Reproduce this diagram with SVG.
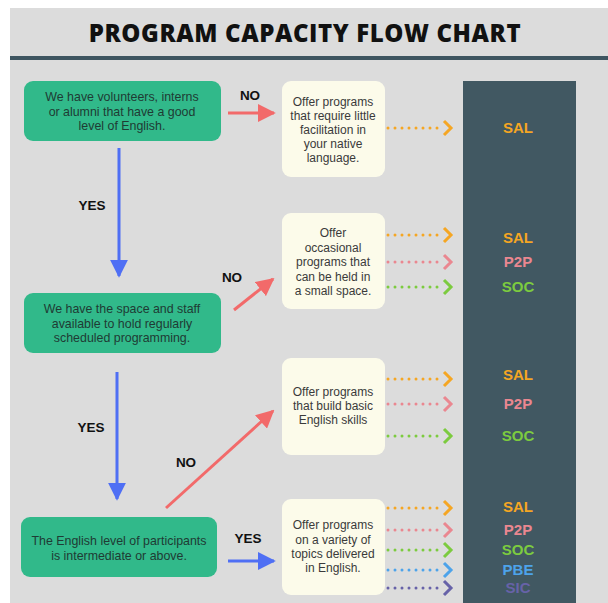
<svg xmlns="http://www.w3.org/2000/svg" width="608" height="603" viewBox="0 0 608 603">
<defs>
<style>
.dec{fill:#31b98a}
.dt{font-family:"Liberation Sans",Arial,sans-serif;font-size:12.4px;fill:#1f3b34;text-anchor:middle}
.out{fill:#fcfbea}
.ot{font-family:"Liberation Sans",Arial,sans-serif;font-size:12px;fill:#3a3a3a;text-anchor:middle}
.lbl{font-family:"Liberation Sans",Arial,sans-serif;font-weight:bold;font-size:13.5px;fill:#111;text-anchor:middle}
.code{font-family:"Liberation Sans",Arial,sans-serif;font-weight:bold;font-size:15px;text-anchor:middle}
.dots{fill:none;stroke-width:3;stroke-linecap:round;stroke-dasharray:0 7}
.chev{fill:none;stroke-width:3;stroke-linejoin:miter;stroke-linecap:butt}
.blue{stroke:#4f6ff4;stroke-width:3;fill:none}
.red{stroke:#f26a6a;stroke-width:3;fill:none}
</style>
<marker id="ab" viewBox="0 0 10 10" refX="9" refY="5" markerWidth="6" markerHeight="6" markerUnits="strokeWidth" orient="auto"><path d="M0,0 L10,5 L0,10 z" fill="#4f6ff4"/></marker>
<marker id="ar" viewBox="0 0 10 10" refX="9" refY="5" markerWidth="6" markerHeight="6" markerUnits="strokeWidth" orient="auto"><path d="M0,0 L10,5 L0,10 z" fill="#f26a6a"/></marker>
</defs>
<rect x="0" y="0" width="608" height="603" fill="#ffffff"/>
<rect x="10" y="8" width="598" height="595" fill="#dcdcdc"/>
<text x="305" y="42" font-family="'Open Sans','Liberation Sans',sans-serif" font-weight="800" font-size="24" letter-spacing="0.6" fill="#111" text-anchor="middle">PROGRAM CAPACITY FLOW CHART</text>
<rect x="10" y="56" width="598" height="4" fill="#3e5560"/>
<rect id="column" x="463" y="81" width="113" height="522" fill="#415862"/>

<g id="d1"><rect class="dec" x="24" y="81" width="197" height="60" rx="9"/>
<text class="dt" x="122" y="101">We have volunteers, interns</text>
<text class="dt" x="122" y="115.5">or alumni that have a good</text>
<text class="dt" x="122" y="130">level of English.</text></g>
<g id="d2"><rect class="dec" x="24" y="293" width="197" height="60" rx="9"/>
<text class="dt" x="122" y="313">We have the space and staff</text>
<text class="dt" x="122" y="327.5">available to hold regularly</text>
<text class="dt" x="122" y="342">scheduled programming.</text></g>
<g id="d3"><rect class="dec" x="21" y="517" width="196" height="60" rx="9"/>
<text class="dt" x="119" y="545">The English level of participants</text>
<text class="dt" x="119" y="559.5">is intermediate or above.</text></g>

<g id="o1"><rect class="out" x="282" y="81" width="103" height="96" rx="9"/>
<text class="ot" x="333" y="106">Offer programs</text>
<text class="ot" x="333" y="120">that require little</text>
<text class="ot" x="333" y="134">facilitation in</text>
<text class="ot" x="333" y="148">your native</text>
<text class="ot" x="333" y="162">language.</text></g>
<g id="o2"><rect class="out" x="282" y="213" width="103" height="96" rx="9"/>
<text class="ot" x="333" y="237">Offer</text>
<text class="ot" x="333" y="251.5">occasional</text>
<text class="ot" x="333" y="266">programs that</text>
<text class="ot" x="333" y="280.5">can be held in</text>
<text class="ot" x="333" y="295">a small space.</text></g>
<g id="o3"><rect class="out" x="282" y="358" width="103" height="97" rx="9"/>
<text class="ot" x="333" y="396">Offer programs</text>
<text class="ot" x="333" y="410">that build basic</text>
<text class="ot" x="333" y="424">English skills</text></g>
<g id="o4"><rect class="out" x="282" y="499" width="103" height="96" rx="9"/>
<text class="ot" x="333" y="529">Offer programs</text>
<text class="ot" x="333" y="543.5">on a variety of</text>
<text class="ot" x="333" y="558">topics delivered</text>
<text class="ot" x="333" y="572">in English.</text></g>

<g id="connectors">
<line class="blue" x1="119" y1="148" x2="119" y2="276" marker-end="url(#ab)"/>
<line class="blue" x1="117" y1="372" x2="117" y2="499" marker-end="url(#ab)"/>
<line class="blue" x1="228" y1="561" x2="274" y2="561" marker-end="url(#ab)"/>
<line class="red" x1="228" y1="113" x2="274" y2="113" marker-end="url(#ar)"/>
<line class="red" x1="234" y1="310" x2="273" y2="279" marker-end="url(#ar)"/>
<line class="red" x1="166" y1="508" x2="273" y2="411" marker-end="url(#ar)"/>
<text class="lbl" x="92" y="210">YES</text>
<text class="lbl" x="91" y="432">YES</text>
<text class="lbl" x="248" y="543">YES</text>
<text class="lbl" x="250" y="100">NO</text>
<text class="lbl" x="232" y="282">NO</text>
<text class="lbl" x="186" y="467">NO</text>

<g stroke="#f5a623"><path class="dots" d="M388,128 H442"/><path class="chev" d="M444,121 L451,128 L444,135"/></g>
<g stroke="#f5a623"><path class="dots" d="M388,235 H442"/><path class="chev" d="M444,228 L451,235 L444,242"/></g>
<g stroke="#ea8790"><path class="dots" d="M388,262 H442"/><path class="chev" d="M444,255 L451,262 L444,269"/></g>
<g stroke="#7ccb3f"><path class="dots" d="M388,287 H442"/><path class="chev" d="M444,280 L451,287 L444,294"/></g>
<g stroke="#f5a623"><path class="dots" d="M388,379 H442"/><path class="chev" d="M444,372 L451,379 L444,386"/></g>
<g stroke="#ea8790"><path class="dots" d="M388,404 H442"/><path class="chev" d="M444,397 L451,404 L444,411"/></g>
<g stroke="#7ccb3f"><path class="dots" d="M388,436 H442"/><path class="chev" d="M444,429 L451,436 L444,443"/></g>
<g stroke="#f5a623"><path class="dots" d="M388,508 H442"/><path class="chev" d="M444,501 L451,508 L444,515"/></g>
<g stroke="#ea8790"><path class="dots" d="M388,530 H442"/><path class="chev" d="M444,523 L451,530 L444,537"/></g>
<g stroke="#7ccb3f"><path class="dots" d="M388,550 H442"/><path class="chev" d="M444,543 L451,550 L444,557"/></g>
<g stroke="#4da3ea"><path class="dots" d="M388,570 H442"/><path class="chev" d="M444,563 L451,570 L444,577"/></g>
<g stroke="#6762a8"><path class="dots" d="M388,588 H442"/><path class="chev" d="M444,581 L451,588 L444,595"/></g>
</g>

<g id="codes">
<text class="code" x="518" y="133" fill="#f5a623">SAL</text>
<text class="code" x="518" y="243" fill="#f5a623">SAL</text>
<text class="code" x="518" y="267" fill="#ea8790">P2P</text>
<text class="code" x="518" y="292" fill="#7ccb3f">SOC</text>
<text class="code" x="518" y="380" fill="#f5a623">SAL</text>
<text class="code" x="518" y="409" fill="#ea8790">P2P</text>
<text class="code" x="518" y="441" fill="#7ccb3f">SOC</text>
<text class="code" x="518" y="512" fill="#f5a623">SAL</text>
<text class="code" x="518" y="535" fill="#ea8790">P2P</text>
<text class="code" x="518" y="555" fill="#7ccb3f">SOC</text>
<text class="code" x="518" y="575" fill="#4da3ea">PBE</text>
<text class="code" x="518" y="593" fill="#6762a8">SIC</text>
</g>
</svg>
